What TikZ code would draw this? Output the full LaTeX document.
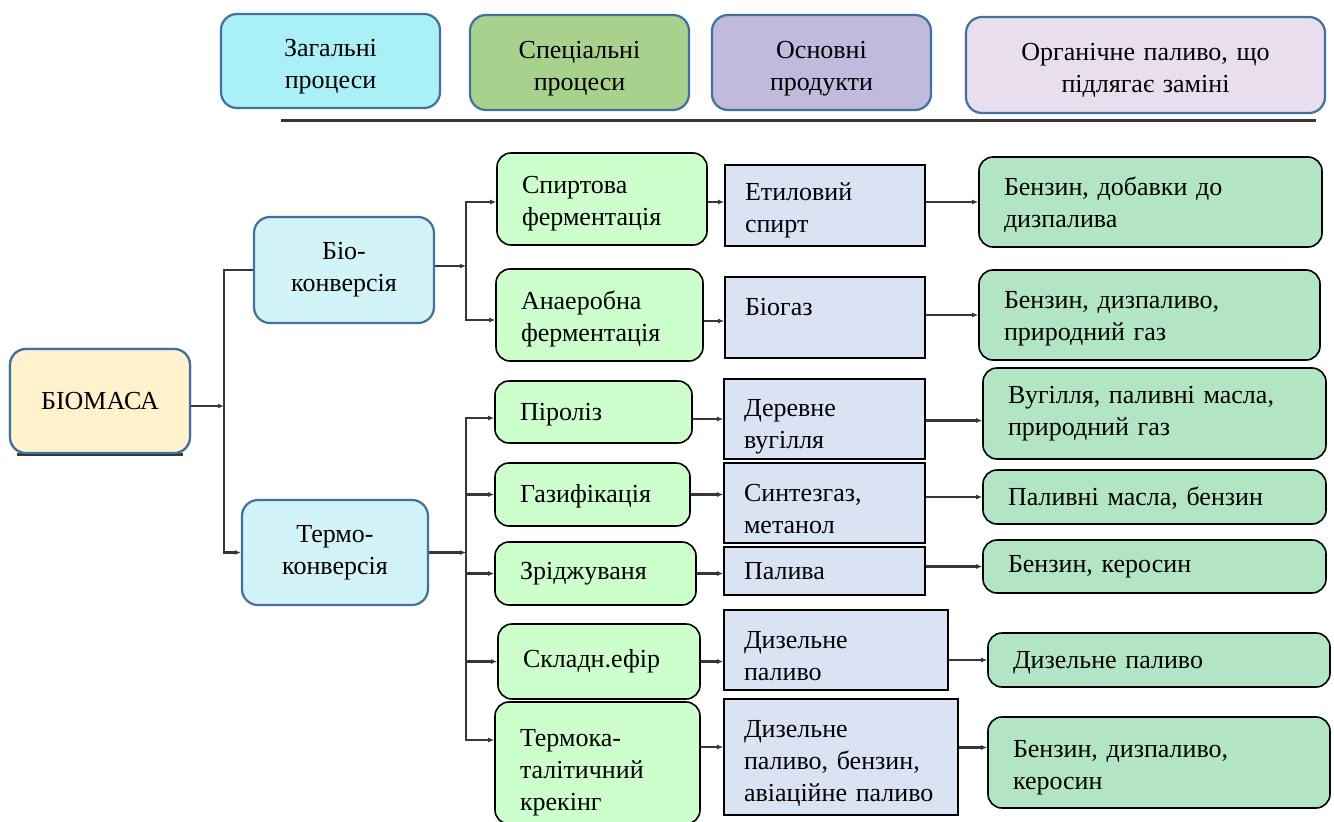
\documentclass[tikz,border=0pt]{standalone}
\usepackage{fontspec}
\setmainfont{Liberation Serif}
\usetikzlibrary{arrows.meta}
\definecolor{bblue}{RGB}{65,113,156}
\definecolor{hA}{RGB}{170,241,247}
\definecolor{hB}{RGB}{169,209,142}
\definecolor{hC}{RGB}{192,186,220}
\definecolor{hD}{RGB}{232,222,238}
\definecolor{biom}{RGB}{255,242,204}
\definecolor{conv}{RGB}{210,244,248}
\definecolor{specg}{RGB}{204,255,204}
\definecolor{prodb}{RGB}{218,227,243}
\definecolor{fuelg}{RGB}{178,229,196}
\definecolor{lineg}{RGB}{55,55,55}
\tikzset{
  hdr/.style={draw=bblue, line width=2.2pt, rounded corners=16pt, align=center, inner sep=0pt},
  specbox/.style={draw=black, line width=1.6pt, fill=specg, rounded corners=14pt, align=left, inner xsep=25pt, inner ysep=0pt},
  prodbox/.style={draw=black, line width=1.6pt, fill=prodb, align=left, inner xsep=20pt, inner ysep=0pt},
  fuelbox/.style={draw=black, line width=1.6pt, fill=fuelg, rounded corners=14pt, align=left, inner xsep=25pt, inner ysep=0pt},
  lift/.style={execute at begin node={\rule{0pt}{#1}}},
  lift/.default=27pt,
  conn/.style={draw=lineg, line width=2.1pt},
  arr/.style={conn, -{Latex[length=6pt,width=5pt]}},
}
\begin{document}
\begin{tikzpicture}[x=1pt,y=-1pt,font=\fontsize{26}{32}\selectfont]
\useasboundingbox[fill=white] (0,0) rectangle (1334,822);

% headers
\node[hdr, lift=29pt, fill=hA, inner xsep=5pt, text width=209pt, minimum height=94pt] (hdrA) at (330.5,61) {Загальні\\процеси};
\node[hdr, lift=29pt, fill=hB, inner xsep=5pt, text width=209pt, minimum height=95pt] (hdrB) at (579.5,62.5) {Спеціальні\\процеси};
\node[hdr, lift=29pt, fill=hC, inner xsep=5pt, text width=209pt, minimum height=95pt] (hdrC) at (821.5,62.5) {Основні\\продукти};
\node[hdr, lift=29pt, fill=hD, inner xsep=5pt, text width=349pt, minimum height=96pt] (hdrD) at (1145.5,65) {Органічне паливо, що\\підлягає заміні};
\coordinate (ruleL) at (281,120);
\coordinate (ruleR) at (1316,120);
\draw[lineg, line width=3pt] (ruleL) -- (ruleR);

% main
\node[hdr, fill=biom, minimum width=180pt, minimum height=104pt] (biomasa) at (100,401) {БІОМАСА};
\draw[lineg, line width=3pt] ([xshift=8pt,yshift=-0.5pt]biomasa.south west) -- ([xshift=-8pt,yshift=-0.5pt]biomasa.south east);
\node[hdr, fill=biom, minimum width=180pt, minimum height=104pt] at (biomasa) {БІОМАСА};
\node[hdr, fill=conv, minimum width=180pt, minimum height=106pt] (bioc) at (344,270) {Біо-\\конверсія};
\node[hdr, fill=conv, minimum width=186pt, minimum height=105pt] (termoc) at (335,552.5) {Термо-\\конверсія};

% special processes
\node[specbox, lift, text width=160pt, minimum height=92pt] (s1) at (602,199) {Спиртова\\ферментація};
\node[specbox, lift, text width=157pt, minimum height=92pt] (s2) at (599.5,315) {Анаеробна\\ферментація};
\node[specbox, lift=22pt, text width=147pt, minimum height=62pt] (s3) at (593.5,412) {Піроліз};
\node[specbox, lift=22pt, text width=145pt, minimum height=63pt] (s4) at (592.5,494.5) {Газифікація};
\node[specbox, text width=151pt, minimum height=63pt] (s5) at (595.5,573.5) {Зріджуваня};
\node[specbox, text width=152pt, minimum height=75pt] (s6) at (599,661.5) {Складн.ефір};
\node[specbox, lift=36pt, text width=155pt, minimum height=122pt] (s7) at (597.5,763) {Термока-\\талітичний\\крекінг};

% products
\node[prodbox, lift, text width=160pt, minimum height=81pt] (p1) at (825,205.5) {Етиловий\\спирт};
\node[prodbox, lift, text width=160pt, minimum height=81pt] (p2) at (825,317.5) {Біогаз\\\mbox{}};
\node[prodbox, lift=33pt, text width=161pt, minimum height=80pt] (p3) at (824.5,419) {Деревне\\вугілля};
\node[prodbox, lift=30pt, text width=161pt, minimum height=80pt] (p4) at (824.5,503) {Синтезгаз,\\метанол};
\node[prodbox, text width=161pt, minimum height=48pt] (p5) at (824.5,571) {Палива};
\node[prodbox, lift=29pt, text width=184pt, minimum height=80pt] (p6) at (836,650) {Дизельне\\паливо};
\node[prodbox, lift=30pt, text width=194pt, minimum height=116pt] (p7) at (841,757) {Дизельне\\паливо,~бензин,\\авіаційне~паливо};

% fuels
\node[fuelbox, lift=25pt, text width=293pt, minimum height=90pt] (f1) at (1150.5,202) {Бензин,~добавки~до\\дизпалива};
\node[fuelbox, lift=25pt, text width=291pt, minimum height=90pt] (f2) at (1149.5,315) {Бензин,~дизпаливо,\\природний~газ};
\node[fuelbox, text width=293pt, minimum height=91pt] (f3) at (1154.5,413.5) {Вугілля,~паливні~масла,\\природний~газ};
\node[fuelbox, lift=21pt, text width=293pt, minimum height=54pt] (f4) at (1154.5,497) {Паливні~масла,~бензин};
\node[fuelbox, text width=293pt, minimum height=53pt] (f5) at (1154.5,566.5) {Бензин,~керосин};
\node[fuelbox, lift=22pt, text width=292pt, minimum height=54pt] (f6) at (1159,660) {Дизельне~паливо};
\node[fuelbox, lift=27pt, text width=292pt, minimum height=91pt] (f7) at (1159,762.5) {Бензин,~дизпаливо,\\керосин};

% connectors: level 1
\coordinate (j0) at (224,406);
\draw[arr] (biomasa.east |- j0) -- (j0);
\draw[conn] (j0) |- (bioc);
\draw[arr] (j0) |- (termoc);

% level 2
\coordinate (j1) at (466,266);
\draw[arr] (bioc.east |- j1) -- (j1);
\draw[arr] (j1) |- ([yshift=-3pt]s1.west);
\draw[arr] (j1) |- ([yshift=-5pt]s2.west);
\coordinate (j2) at (466,552.5);
\draw[arr] (termoc) -- (j2);
\draw[arr] (j2) |- ([yshift=-6pt]s3.west);
\draw[arr] (j2) |- (s4);
\draw[arr] (j2) |- (s5);
\draw[arr] (j2) |- (s6);
\draw[arr] (j2) |- ([yshift=23pt]s7.west);

% level 3
\draw[arr] ([yshift=-3pt]s1.east) -- ([yshift=-3pt]s1.east -| p1.west);
\draw[arr] ([yshift=-6pt]s2.east) -- ([yshift=-6pt]s2.east -| p2.west);
\draw[arr] ([yshift=-7pt]s3.east) -- ([yshift=-7pt]s3.east -| p3.west);
\draw[arr] (s4.east) -- (s4.east -| p4.west);
\draw[arr] (s5.east) -- (s5.east -| p5.west);
\draw[arr] (s6.east) -- (s6.east -| p6.west);
\draw[arr] ([yshift=16pt]s7.east) -- ([yshift=16pt]s7.east -| p7.west);

% level 4
\draw[arr] (f1.west -| p1.east) -- (f1.west);
\draw[arr] (f2.west -| p2.east) -- (f2.west);
\draw[arr] ([yshift=-7pt]f3.west -| p3.east) -- ([yshift=-7pt]f3.west);
\draw[arr] (f4.west -| p4.east) -- (f4.west);
\draw[arr] (f5.west -| p5.east) -- (f5.west);
\draw[arr] (f6.west -| p6.east) -- (f6.west);
\draw[arr] ([yshift=15pt]f7.west -| p7.east) -- ([yshift=15pt]f7.west);
\end{tikzpicture}
\end{document}
